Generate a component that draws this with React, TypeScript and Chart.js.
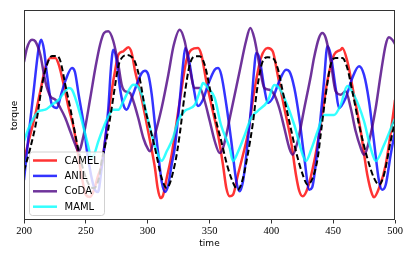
import React, { useEffect, useRef } from "react";
import { Chart, registerables } from "chart.js";

Chart.register(...registerables);

// ---------- data ----------
const xTickValues = [200, 250, 300, 350, 400, 450, 500];

const truthTime = [200, 205.1, 210.5, 214.6, 218.6, 222.6, 226.7, 229.4, 233.4, 237.4, 241.5, 244.2, 248.5, 252.6, 256.6, 260.6, 262.8, 266.9, 270.9, 273.6, 276.3, 279.0, 283.0, 287.1, 289.8, 293.8, 297.8, 301.9, 305.9, 311.3, 315.4, 321.9, 325.9, 329.9, 334.0, 338.0, 342.1, 346.1, 350.2, 354.2, 359.5, 364.9, 370.4, 373.0, 377.1, 380.9, 384.9, 389.0, 393.0, 397.1, 401.1, 405.1, 409.2, 414.5, 419.9, 425.4, 429.4, 433.4, 437.5, 439.9, 444.0, 448.0, 452.0, 457.4, 461.4, 465.5, 470.9, 477.6, 483.0, 487.1, 491.1, 496.5, 500];
const truthTorque = [-0.555, -0.325, -0.025, 0.305, 0.508, 0.595, 0.595, 0.545, 0.308, 0.075, -0.192, -0.355, -0.565, -0.695, -0.725, -0.625, -0.455, -0.225, 0.075, 0.295, 0.495, 0.575, 0.605, 0.585, 0.535, 0.355, 0.075, -0.125, -0.325, -0.625, -0.725, -0.492, -0.192, 0.208, 0.508, 0.592, 0.592, 0.508, 0.275, 0.008, -0.255, -0.525, -0.708, -0.742, -0.625, -0.392, -0.092, 0.308, 0.542, 0.582, 0.575, 0.475, 0.242, -0.058, -0.358, -0.592, -0.692, -0.625, -0.425, -0.192, 0.208, 0.508, 0.575, 0.575, 0.475, 0.242, -0.092, -0.425, -0.625, -0.692, -0.592, -0.255, -0.055];

const camelTime = [200, 203.8, 209.1, 213.2, 217.2, 221.3, 225.3, 228.1, 232.1, 236.1, 240.2, 242.9, 246.9, 250.1, 253.4, 256.6, 259.8, 262.8, 266.9, 270.9, 273.6, 276.3, 280.3, 284.3, 287.1, 289.8, 293.8, 297.8, 301.9, 305.9, 308.0, 310.3, 312.4, 315.4, 319.4, 321.9, 327.2, 331.2, 335.3, 340.7, 343.4, 347.4, 351.5, 356.9, 360.9, 363.6, 366.3, 369.0, 373.0, 377.1, 380.9, 386.2, 391.6, 397.1, 401.1, 405.1, 410.5, 415.9, 419.9, 422.6, 425.4, 429.4, 434.7, 439.9, 445.3, 450.7, 456.1, 457.4, 461.4, 466.8, 472.3, 477.6, 481.6, 483.0, 487.1, 492.5, 499.2, 500];
const camelTorque = [-0.445, -0.255, 0.008, 0.245, 0.475, 0.575, 0.575, 0.508, 0.308, 0.075, -0.125, -0.325, -0.625, -0.795, -0.815, -0.745, -0.605, -0.492, -0.125, 0.245, 0.445, 0.608, 0.642, 0.682, 0.625, 0.445, 0.245, 0.008, -0.255, -0.525, -0.72, -0.825, -0.8, -0.625, -0.392, -0.192, 0.245, 0.545, 0.658, 0.675, 0.608, 0.345, 0.108, -0.192, -0.492, -0.725, -0.808, -0.792, -0.592, -0.392, -0.192, 0.245, 0.575, 0.675, 0.642, 0.408, 0.075, -0.255, -0.592, -0.755, -0.808, -0.725, -0.458, -0.092, 0.345, 0.608, 0.658, 0.675, 0.545, 0.208, -0.158, -0.592, -0.792, -0.818, -0.725, -0.492, 0.075, 0.155];

const anilTime = [200, 203.8, 207.8, 211.9, 214.0, 216.2, 218.6, 222.6, 226.7, 229.9, 233.4, 238.8, 241.2, 244.2, 248.3, 250.9, 254.2, 257.4, 259.8, 262.8, 265.5, 268.2, 270.3, 272.2, 275.0, 277.6, 280.3, 283.0, 287.1, 291.1, 295.2, 297.8, 300.5, 303.3, 305.9, 308.6, 311.3, 314.0, 316.7, 319.4, 321.9, 325.9, 328.6, 330.4, 332.6, 336.7, 340.7, 344.7, 348.8, 354.2, 356.9, 359.5, 363.6, 367.6, 371.7, 374.4, 377.1, 379.5, 383.6, 386.2, 387.6, 390.3, 394.3, 397.1, 401.1, 406.4, 411.9, 414.5, 418.6, 422.6, 426.7, 430.7, 433.0, 435.8, 438.5, 442.6, 445.3, 448.0, 452.0, 454.7, 460.1, 465.5, 470.9, 474.9, 479.0, 483.0, 487.1, 489.7, 492.5, 496.5, 500];
const anilTorque = [-0.645, -0.192, 0.245, 0.675, 0.758, 0.655, 0.408, 0.108, 0.075, 0.205, 0.345, 0.475, 0.435, 0.208, -0.092, -0.355, -0.595, -0.745, -0.765, -0.525, -0.255, 0.075, 0.475, 0.658, 0.542, 0.275, 0.108, 0.058, 0.175, 0.308, 0.425, 0.448, 0.408, 0.208, -0.092, -0.392, -0.658, -0.765, -0.692, -0.492, -0.325, 0.145, 0.508, 0.675, 0.608, 0.308, 0.095, 0.158, 0.308, 0.458, 0.475, 0.408, 0.108, -0.255, -0.658, -0.758, -0.658, -0.425, 0.075, 0.475, 0.625, 0.575, 0.275, 0.125, 0.175, 0.342, 0.458, 0.442, 0.275, -0.025, -0.425, -0.742, -0.72, -0.5, -0.192, 0.342, 0.692, 0.608, 0.275, 0.075, 0.175, 0.375, 0.492, 0.408, 0.142, -0.258, -0.658, -0.742, -0.692, -0.392, -0.158];

const codaTime = [200, 202.4, 206.5, 209.1, 213.2, 217.2, 221.3, 225.3, 229.4, 233.4, 237.4, 241.5, 244.2, 248.3, 253.6, 257.7, 261.5, 264.7, 268.2, 272.2, 276.3, 279.0, 281.7, 285.7, 288.4, 292.4, 296.5, 300.5, 301.9, 305.9, 311.3, 316.7, 321.0, 325.9, 329.9, 334.0, 338.0, 342.1, 346.1, 350.2, 354.2, 358.2, 360.9, 367.6, 374.4, 379.5, 383.0, 386.2, 390.3, 394.3, 398.4, 402.4, 406.4, 410.5, 414.5, 417.3, 421.3, 426.7, 432.1, 434.5, 438.5, 441.2, 444.0, 448.0, 452.0, 456.1, 460.1, 464.2, 468.2, 472.3, 474.9, 479.0, 484.4, 488.4, 492.5, 495.1, 497.8, 500];
const codaTorque = [0.535, 0.675, 0.758, 0.742, 0.608, 0.342, 0.192, 0.158, 0.075, -0.025, -0.158, -0.292, -0.358, -0.192, 0.175, 0.475, 0.708, 0.825, 0.842, 0.745, 0.508, 0.308, 0.242, 0.225, 0.145, -0.025, -0.225, -0.342, -0.358, -0.192, 0.075, 0.408, 0.70, 0.858, 0.745, 0.475, 0.275, 0.275, 0.145, -0.055, -0.255, -0.375, -0.325, 0.045, 0.445, 0.742, 0.875, 0.775, 0.508, 0.275, 0.258, 0.208, 0.075, -0.125, -0.325, -0.392, -0.258, 0.075, 0.408, 0.575, 0.775, 0.825, 0.775, 0.542, 0.242, 0.208, 0.242, 0.075, -0.158, -0.325, -0.392, -0.258, 0.075, 0.408, 0.708, 0.782, 0.758, 0.715];

const mamlTime = [200, 203.8, 207.8, 211.9, 217.2, 222.6, 228.1, 232.1, 236.1, 238.8, 241.5, 245.5, 249.6, 252.3, 254.2, 256.6, 260.1, 264.1, 268.2, 272.2, 276.3, 280.3, 284.3, 288.4, 291.1, 295.2, 299.2, 303.3, 307.3, 311.3, 315.4, 320.5, 324.5, 329.9, 338.0, 343.1, 344.7, 348.8, 354.2, 359.3, 366.3, 369.0, 373.0, 378.5, 383.6, 389.0, 397.1, 402.4, 406.4, 410.5, 418.6, 425.4, 428.0, 432.1, 437.5, 442.6, 450.7, 456.1, 461.4, 466.8, 474.9, 480.3, 484.4, 491.1, 499.2, 500];
const mamlTorque = [-0.255, -0.125, -0.025, 0.042, 0.058, 0.108, 0.158, 0.225, 0.275, 0.258, 0.175, 0.008, -0.192, -0.325, -0.425, -0.395, -0.258, -0.125, -0.008, 0.058, 0.058, 0.142, 0.242, 0.308, 0.302, 0.208, 0.008, -0.192, -0.358, -0.452, -0.358, -0.225, -0.055, 0.045, 0.105, 0.275, 0.325, 0.275, 0.175, -0.095, -0.325, -0.455, -0.365, -0.195, -0.025, 0.045, 0.145, 0.305, 0.275, 0.175, -0.095, -0.395, -0.455, -0.345, -0.155, 0.005, 0.005, 0.105, 0.295, 0.205, -0.055, -0.325, -0.455, -0.295, -0.055, -0.035];

const seriesLabels = ["CAMEL", "ANIL", "CoDA", "MAML"];
const seriesColors = ["rgba(255,0,0,0.8)", "rgba(0,0,255,0.8)", "rgba(75,0,130,0.8)", "rgba(0,255,255,0.8)"];

const toPoints = (t: number[], v: number[]) => t.map((x, i) => ({ x, y: v[i] }));

const framePlugin = {
  id: "frame",
  afterDatasetsDraw(chart: any) {
    const { ctx, chartArea } = chart;
    const { left, top, right, bottom } = chartArea;
    ctx.save();
    ctx.strokeStyle = "#333";
    ctx.lineWidth = 1;
    ctx.strokeRect(Math.round(left) + 0.5, Math.round(top) - 0.5, Math.round(right - left) - 1, Math.round(bottom - top) + 0.0);
    ctx.restore();
  },
};

const legendPlugin = {
  id: "boxLegend",
  afterDraw(chart: any) {
    const { ctx, chartArea } = chart;
    const x0 = chartArea.left + 5;
    const w = 75;
    const h = 63.5;
    const y0 = chartArea.bottom - 5 - h;
    ctx.save();
    ctx.beginPath();
    ctx.roundRect(x0 + 0.5, y0 + 0.5, w, h, 3);
    ctx.fillStyle = "rgba(255,255,255,0.8)";
    ctx.fill();
    ctx.strokeStyle = "rgba(204,204,204,0.9)";
    ctx.lineWidth = 1;
    ctx.stroke();
    ctx.font = '10px "DejaVu Sans"';
    ctx.textBaseline = "middle";
    ctx.textAlign = "left";
    seriesLabels.forEach((name, i) => {
      const y = y0 + 9 + i * 15.4;
      ctx.beginPath();
      ctx.moveTo(x0 + 4, y);
      ctx.lineTo(x0 + 28, y);
      ctx.strokeStyle = seriesColors[i];
      ctx.lineWidth = 2.5;
      ctx.stroke();
      ctx.fillStyle = "#000";
      ctx.fillText(name, x0 + 35.5, y + 0.5);
    });
    ctx.restore();
  },
};

export default function App() {
  const ref = useRef<HTMLCanvasElement>(null);

  useEffect(() => {
    if (!ref.current) return;
    const series = [
      { t: camelTime, v: camelTorque },
      { t: anilTime, v: anilTorque },
      { t: codaTime, v: codaTorque },
      { t: mamlTime, v: mamlTorque },
    ];
    const datasets: any[] = [
      {
        label: "truth",
        data: toPoints(truthTime, truthTorque),
        borderColor: "#000",
        borderWidth: 2,
        borderDash: [6, 3],
        pointRadius: 0,
        cubicInterpolationMode: "monotone",
        order: 0,
      },
      ...series.map((s, i) => ({
        label: seriesLabels[i],
        data: toPoints(s.t, s.v),
        borderColor: seriesColors[i],
        borderWidth: 2.5,
        pointRadius: 0,
        cubicInterpolationMode: "monotone",
        order: 4 - i,
      })),
    ];

    const chart = new Chart(ref.current, {
      type: "line",
      data: { datasets },
      options: {
        animation: false,
        responsive: false,
        layout: { padding: { top: 11, right: 20, left: 0, bottom: 0 } },
        plugins: { legend: { display: false }, tooltip: { enabled: false } },
        scales: {
          x: {
            type: "linear",
            min: 200,
            max: 500,
            afterBuildTicks: (s: any) => {
              s.ticks = xTickValues.map((v) => ({ value: v }));
            },
            ticks: {
              color: "#000",
              font: { family: '"Liberation Serif", serif', size: 10.5 },
              padding: 1.5,
              maxRotation: 0,
            },
            grid: { display: true, drawOnChartArea: false, drawTicks: true, tickLength: 3.5, color: "#333", lineWidth: 1 },
            border: { display: false },
            title: {
              display: true,
              text: "time",
              color: "#000",
              font: { family: '"DejaVu Sans"', size: 9 },
              padding: { top: 0, bottom: 10.8 },
            },
            afterFit: (s: any) => {
              s.height = 40;
            },
          },
          y: {
            type: "linear",
            min: -1.045,
            max: 1.045,
            ticks: { display: false },
            grid: { display: false },
            border: { display: false },
            title: {
              display: true,
              text: "torque",
              color: "#000",
              font: { family: '"DejaVu Sans"', size: 9 },
              padding: { top: 9.1, bottom: 0 },
            },
            afterFit: (s: any) => {
              s.width = 24;
            },
          },
        },
      } as any,
      plugins: [framePlugin, legendPlugin],
    });
    return () => chart.destroy();
  }, []);

  return (
    <div style={{ position: "fixed", left: 0, top: 0, width: 415, height: 260, background: "#fff" }}>
      <canvas ref={ref} width={415} height={260} style={{ display: "block" }} />
    </div>
  );
}
